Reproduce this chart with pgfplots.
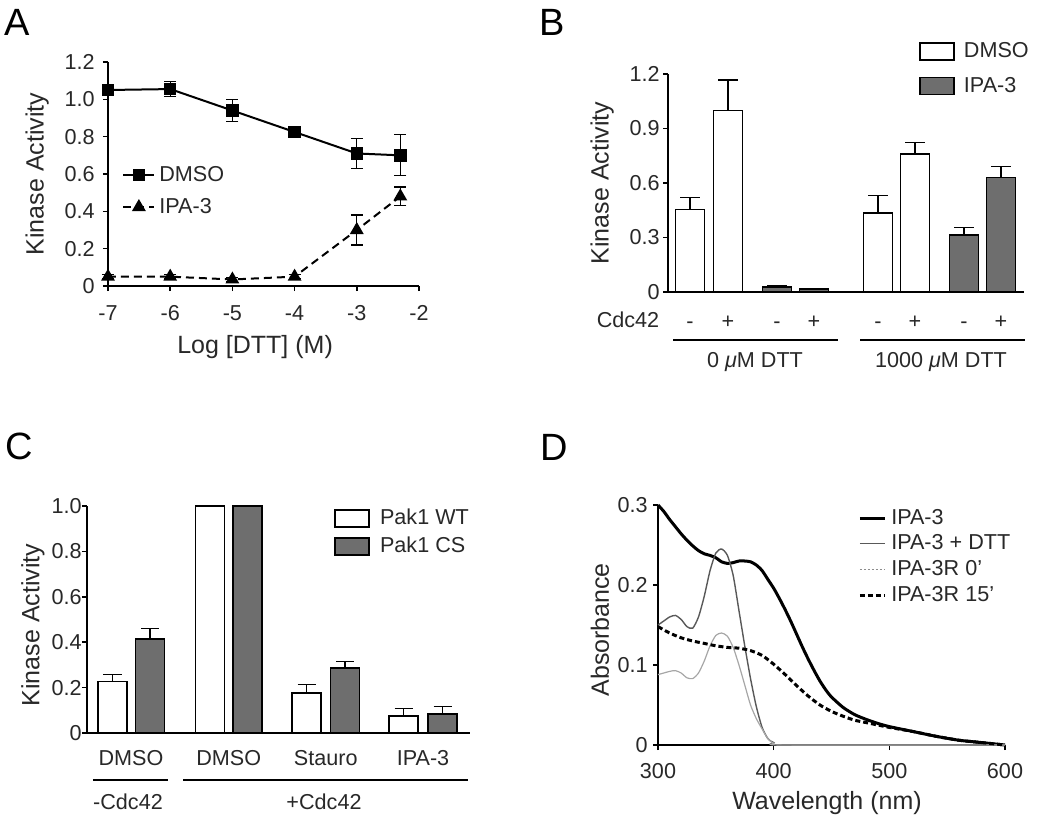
\documentclass[border=0pt]{standalone}
\usepackage{fontspec}
\setmainfont{Liberation Sans}
\usepackage{pgfplots}
\pgfplotsset{compat=1.18}
\definecolor{txt}{RGB}{40,40,40}
\definecolor{bargray}{RGB}{110,110,110}
\pgfplotsset{
  panel/.style={
    scale only axis, clip=false,
    axis x line*=bottom, axis y line*=left,
    axis line style={black, line width=0.9pt},
    tick align=outside, major tick length=2.5pt,
    tick style={black, line width=0.8pt},
    tick label style={font=\fontsize{10.8}{12}\selectfont, text=txt},
    label style={font=\fontsize{12.5}{14}\selectfont, text=txt},
    xticklabel style={anchor=base},
    yticklabel style={anchor=east, inner sep=0pt},
    legend cell align=left,
    legend style={draw=none, fill=none, inner sep=0pt, column sep=3pt,
      font=\fontsize{10.8}{12}\selectfont, text=txt,
      nodes={inner sep=1pt, text height=8pt, text depth=2pt}},
  },
  boxleg/.style={legend image code/.code={\draw[##1, line width=0.8pt] (0pt,-4.25pt) rectangle (17pt,4.25pt);}},
  errs/.style={error bars/.cd, y dir=#1, y explicit,
    error bar style={solid, black, line width=0.6pt}},
}
\newcommand{\lab}{\fontsize{10.8}{12}\selectfont}
\begin{document}
\begin{tikzpicture}[x=0.5pt, y=0.5pt]
\useasboundingbox (0,0) rectangle (1050,827);

% panel letters
\node[font=\fontsize{19}{22}\selectfont] at (17,827-22) {A};
\node[font=\fontsize{19}{22}\selectfont] at (552,827-22) {B};
\node[font=\fontsize{19}{22}\selectfont] at (19,827-446) {C};
\node[font=\fontsize{19}{22}\selectfont] at (554,827-447) {D};

% ---------- A ----------
\begin{axis}[panel, at={(54pt,270.5pt)}, anchor=south west,
  width=155.5pt, height=112pt,
  xmin=-7, xmax=-2, ymin=0, ymax=1.2,
  xtick={-7,-6,-5,-4,-3,-2}, xticklabels={-7,-6,-5,-4,-3,-2},
  ytick={0,0.2,0.4,0.6,0.8,1.0,1.2}, yticklabels={0,0.2,0.4,0.6,0.8,1.0,1.2},
  xticklabel style={yshift=-14.5pt}, yticklabel style={xshift=-4pt},
  xlabel={Log [DTT] (M)}, ylabel={Kinase Activity},
  xlabel style={at={(axis description cs:0.473,-0.272)}, anchor=center},
  ylabel style={at={(axis description cs:-0.228,0.5)}, anchor=center},
  legend style={at={(axis description cs:0.045,0.424)}, anchor=west, row sep=4pt, column sep=1pt},
  legend image code/.code={\draw[mark repeat=2, mark phase=2, #1] plot coordinates {(0pt,0pt) (7.75pt,0pt) (15.5pt,0pt)};},
]
\addplot[black, line width=1pt, mark=square*, mark size=2.6pt, mark options={solid},
  errs=both, error mark options={rotate=90, black, line width=0.6pt, mark size=3pt}]
  coordinates {(-7,1.05) +- (0,0.015) (-6,1.055) +- (0,0.04) (-5,0.94) +- (0,0.06)
               (-4,0.825) +- (0,0.015) (-3,0.71) +- (0,0.08) (-2.3,0.70) +- (0,0.11)};
\addlegendentry{DMSO}
\addplot[black, line width=1pt, dash pattern=on 4pt off 2.5pt, mark=triangle*, mark size=3pt, mark options={solid},
  errs=both, error mark options={rotate=90, black, solid, line width=0.6pt, mark size=3pt}]
  coordinates {(-7,0.05) +- (0,0.01) (-6,0.05) +- (0,0.01) (-5,0.035) +- (0,0.01)
               (-4,0.05) +- (0,0.01) (-3,0.30) +- (0,0.08) (-2.3,0.48) +- (0,0.05)};
\addlegendentry{IPA-3}
\end{axis}

% ---------- B ----------
\begin{axis}[panel, at={(334pt,267.5pt)}, anchor=south west,
  width=178pt, height=109pt,
  xmin=0, xmax=356, ymin=0, ymax=1.2,
  xtick={22,60,109,146,210,247,296,333}, xticklabels={-,+,-,+,-,+,-,+},
  xtick style={draw=none},
  ytick={0,0.3,0.6,0.9,1.2}, yticklabels={0,0.3,0.6,0.9,1.2},
  xticklabel style={yshift=-15.5pt}, yticklabel style={xshift=-1.5pt},
  ylabel={Kinase Activity},
  ylabel style={at={(axis description cs:-0.185,0.5)}, anchor=center},
  legend style={at={(axis description cs:0.705,1.024)}, anchor=west, row sep=5.25pt, column sep=3.5pt},
]
\addplot[ybar, bar width=29, bar shift=0pt, draw=black, line width=0.8pt, fill=white, boxleg,
  errs=plus, error mark options={rotate=90, black, line width=0.6pt, mark size=5pt}]
  coordinates {(22,0.455) +- (0,0.065) (60,1.0) +- (0,0.167)
               (210,0.436) +- (0,0.094) (247,0.758) +- (0,0.066)};
\addlegendentry{DMSO}
\addplot[ybar, bar width=29, bar shift=0pt, draw=black, line width=0.8pt, fill=bargray, boxleg,
  errs=plus, error mark options={rotate=90, black, line width=0.6pt, mark size=5pt}]
  coordinates {(109,0.029) +- (0,0.005) (146,0.015) +- (0,0.003)
               (296,0.314) +- (0,0.04) (333,0.631) +- (0,0.059)};
\addlegendentry{IPA-3}
\node[anchor=base, font=\lab, text=txt] at (axis cs:-40,-0.198) {Cdc42};
\draw[black, line width=0.8pt] (axis cs:5,-0.264) -- (axis cs:170,-0.264);
\draw[black, line width=0.8pt] (axis cs:192,-0.264) -- (axis cs:357,-0.264);
\node[anchor=base, font=\lab, text=txt] at (axis cs:87,-0.413) {0 {\itshape μ}M DTT};
\node[anchor=base, font=\lab, text=txt] at (axis cs:273,-0.413) {1000 {\itshape μ}M DTT};
\end{axis}

% ---------- C ----------
\begin{axis}[panel, at={(43.5pt,47pt)}, anchor=south west,
  width=191.5pt, height=113.5pt,
  xmin=0, xmax=383, ymin=0, ymax=1.0,
  xtick={44,141.75,238.75,336}, xticklabels={DMSO,DMSO,Stauro,IPA-3},
  xtick style={draw=none},
  ytick={0,0.2,0.4,0.6,0.8,1.0}, yticklabels={0,0.2,0.4,0.6,0.8,1.0},
  xticklabel style={yshift=-13.5pt}, yticklabel style={xshift=0pt},
  ylabel={Kinase Activity},
  ylabel style={at={(axis description cs:-0.141,0.476)}, anchor=center},
  legend style={at={(axis description cs:0.645,0.883)}, anchor=west, row sep=2pt, column sep=4pt},
]
\addplot[ybar, bar width=29, bar shift=0pt, draw=black, line width=0.8pt, fill=white, boxleg,
  errs=plus, error mark options={rotate=90, black, line width=0.6pt, mark size=4.5pt}]
  coordinates {(25.5,0.227) +- (0,0.03) (123,1.0) +- (0,0)
               (219.5,0.176) +- (0,0.037) (316.5,0.076) +- (0,0.031)};
\addlegendentry{Pak1 WT}
\addplot[ybar, bar width=29, bar shift=0pt, draw=black, line width=0.8pt, fill=bargray, boxleg,
  errs=plus, error mark options={rotate=90, black, line width=0.6pt, mark size=4.5pt}]
  coordinates {(63,0.413) +- (0,0.049) (160.5,1.0) +- (0,0)
               (258,0.286) +- (0,0.029) (355.5,0.084) +- (0,0.033)};
\addlegendentry{Pak1 CS}
\draw[black, line width=0.8pt] (axis cs:6,-0.207) -- (axis cs:81,-0.207);
\draw[black, line width=0.8pt] (axis cs:96,-0.207) -- (axis cs:381,-0.207);
\node[anchor=base, font=\lab, text=txt] at (axis cs:41,-0.339) {-Cdc42};
\node[anchor=base, font=\lab, text=txt] at (axis cs:237,-0.339) {+Cdc42};
\end{axis}

% ---------- D ----------
\begin{axis}[panel, at={(329pt,41pt)}, anchor=south west,
  width=173.5pt, height=120pt,
  xmin=300, xmax=600, ymin=0, ymax=0.3,
  xtick={300,400,500,600}, xticklabels={300,400,500,600},
  ytick={0,0.1,0.2,0.3}, yticklabels={0,0.1,0.2,0.3},
  xticklabel style={yshift=-14pt}, yticklabel style={xshift=-2.5pt},
  xlabel={Wavelength (nm)}, ylabel={Absorbance},
  xlabel style={at={(axis description cs:0.487,-0.242)}, anchor=center},
  ylabel style={at={(axis description cs:-0.167,0.48)}, anchor=center},
  legend style={at={(axis description cs:0.576,0.785)}, anchor=west, row sep=0.85pt, column sep=1.5pt},
  legend image code/.code={\draw[#1] (0pt,0pt) -- (12.5pt,0pt);},
]
\addplot[black, line width=1.5pt, smooth, tension=0.4] table {
x y
300 0.300
305 0.292
310 0.282
315 0.273
320 0.264
325 0.256
330 0.249
335 0.243
340 0.239
345 0.237
350 0.234
355 0.229
360 0.227
365 0.228
370 0.230
375 0.230
380 0.229
385 0.225
390 0.218
395 0.207
400 0.196
405 0.183
410 0.169
415 0.154
420 0.138
425 0.122
430 0.107
435 0.093
440 0.080
445 0.069
450 0.060
460 0.047
470 0.038
480 0.032
490 0.027
500 0.023
520 0.017
540 0.011
560 0.006
580 0.003
600 0.000
};
\addlegendentry{IPA-3}
\addplot[black!65, line width=0.7pt, smooth, tension=0.4] table {
x y
300 0.150
305 0.155
310 0.160
315 0.162
320 0.157
325 0.148
330 0.146
335 0.160
340 0.186
345 0.218
350 0.240
355 0.245
360 0.237
365 0.212
370 0.168
375 0.124
380 0.083
385 0.048
390 0.022
395 0.008
400 0.003
410 0.000
600 0.000
};
\addlegendentry{IPA-3 + DTT}
\addplot[black!35, line width=0.6pt, smooth, tension=0.4,
  legend image code/.code={\draw[black!45, line width=0.6pt, dash pattern=on 1pt off 1pt] (0pt,0pt) -- (12.5pt,0pt);}] table {
x y
300 0.088
305 0.090
310 0.092
315 0.093
320 0.090
325 0.084
330 0.083
335 0.090
340 0.105
345 0.124
350 0.137
355 0.140
360 0.136
365 0.122
370 0.100
375 0.075
380 0.050
385 0.033
390 0.020
395 0.008
400 0.002
410 0.000
600 0.000
};
\addlegendentry{IPA-3R 0'}
\addplot[black, line width=1.5pt, dash pattern=on 2.5pt off 1.5pt, smooth, tension=0.4] table {
x y
300 0.148
310 0.140
320 0.134
330 0.130
340 0.127
350 0.124
360 0.122
370 0.121
380 0.118
390 0.112
400 0.101
410 0.088
420 0.074
430 0.061
440 0.050
450 0.042
460 0.036
470 0.031
480 0.028
490 0.025
500 0.022
520 0.017
540 0.011
560 0.006
580 0.003
600 0.000
};
\addlegendentry{IPA-3R 15'}
\end{axis}
\end{tikzpicture}
\end{document}
